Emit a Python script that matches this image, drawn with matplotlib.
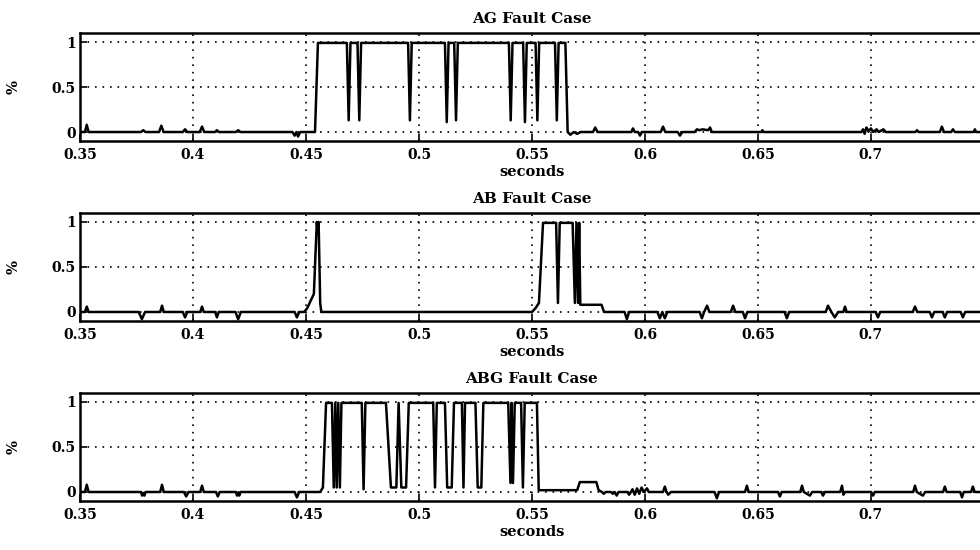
import matplotlib
matplotlib.use("Agg")
import matplotlib.pyplot as plt

plt.rcParams['font.family'] = ['DejaVu Serif']
plt.rcParams['font.weight'] = 'bold'

# AG fault: trip signal breakpoints (time in s, value)
ag_t = [0.350, 0.3522, 0.3530, 0.3538, 0.377, 0.378, 0.379, 0.385, 0.386, 0.387,
        0.3955, 0.3965, 0.3975, 0.403, 0.404, 0.405, 0.4098, 0.4106, 0.4114,
        0.419, 0.420, 0.421, 0.444, 0.445, 0.4458, 0.4465, 0.4475,
        0.4540, 0.4553, 0.4681, 0.4689, 0.4697, 0.4728, 0.4736, 0.4744,
        0.4952, 0.4960, 0.4968, 0.5115, 0.5123, 0.5131, 0.5156, 0.5164, 0.5172,
        0.5398, 0.5406, 0.5414, 0.5461, 0.5469, 0.5477, 0.5516, 0.5524, 0.5532,
        0.5602, 0.5610, 0.5618, 0.5648, 0.5658,
        0.567, 0.5685, 0.570, 0.5715, 0.577, 0.578, 0.579, 0.594, 0.5947, 0.5955,
        0.597, 0.5978, 0.5986, 0.607, 0.608, 0.609, 0.6145, 0.6155, 0.6165,
        0.622, 0.623, 0.624, 0.6255, 0.628, 0.6288, 0.6296, 0.6515, 0.652, 0.6525,
        0.6958, 0.6965, 0.6972, 0.698, 0.699, 0.700, 0.701, 0.7025, 0.7035,
        0.7055, 0.7065, 0.7197, 0.7204, 0.7211, 0.7305, 0.7314, 0.7323,
        0.7355, 0.7363, 0.7371, 0.7455, 0.746, 0.7465, 0.750]
ag_v = [0.0, 0.0, 0.08, 0.0, 0.0, 0.02, 0.0, 0.0, 0.07, 0.0,
        0.0, 0.03, 0.0, 0.0, 0.06, 0.0, 0.0, 0.02, 0.0,
        0.0, 0.02, 0.0, 0.0, -0.04, 0.0, -0.05, 0.0,
        0.0, 0.99, 0.99, 0.13, 0.99, 0.99, 0.13, 0.99,
        0.99, 0.13, 0.99, 0.99, 0.11, 0.99, 0.99, 0.13, 0.99,
        0.99, 0.13, 0.99, 0.99, 0.11, 0.99, 0.99, 0.13, 0.99,
        0.99, 0.13, 0.99, 0.99, 0.0,
        -0.03, 0.0, -0.02, 0.0, 0.0, 0.05, 0.0, 0.0, 0.04, 0.0,
        0.0, -0.04, 0.0, 0.0, 0.06, 0.0, 0.0, -0.04, 0.0,
        0.0, 0.03, 0.02, 0.03, 0.02, 0.05, 0.0, 0.0, 0.02, 0.0,
        0.0, 0.03, -0.02, 0.05, 0.01, 0.04, 0.0, 0.03, 0.0,
        0.03, 0.0, 0.0, 0.02, 0.0, 0.0, 0.06, 0.0,
        0.0, 0.03, 0.0, 0.0, 0.03, 0.0, 0.0]

# AB fault
ab_t = [0.350, 0.3522, 0.353, 0.3538, 0.376, 0.3774, 0.3788, 0.3855, 0.3863, 0.3871,
        0.3955, 0.3965, 0.3975, 0.4032, 0.404, 0.4048, 0.4098, 0.4106, 0.4114,
        0.4188, 0.420, 0.4212, 0.445, 0.446, 0.447,
        0.4492, 0.4505, 0.4520, 0.4535, 0.4548, 0.4552, 0.4556, 0.4563, 0.4568,
        0.5500, 0.5515, 0.5531, 0.5549, 0.5607, 0.5615, 0.5623, 0.5680, 0.5690,
        0.5697, 0.5704, 0.5709, 0.5714, 0.5808, 0.5819,
        0.591, 0.592, 0.593, 0.6055, 0.6066, 0.6077, 0.6088, 0.6099,
        0.6242, 0.6252, 0.6262, 0.6275, 0.6285, 0.638, 0.639, 0.640,
        0.6433, 0.6443, 0.6453, 0.6618, 0.6628, 0.6638, 0.680, 0.681, 0.6825,
        0.684, 0.6855, 0.6878, 0.6885, 0.6893, 0.7021, 0.7031, 0.7041,
        0.7185, 0.7195, 0.7205, 0.726, 0.727, 0.728, 0.7317, 0.7327, 0.7337,
        0.7397, 0.7407, 0.7417, 0.750]
ab_v = [0.0, 0.0, 0.06, 0.0, 0.0, -0.08, 0.0, 0.0, 0.07, 0.0,
        0.0, -0.06, 0.0, 0.0, 0.06, 0.0, 0.0, -0.06, 0.0,
        0.0, -0.08, 0.0, 0.0, -0.06, 0.0,
        0.0, 0.04, 0.12, 0.20, 1.0, 0.9, 1.0, 0.1, 0.0,
        0.0, 0.04, 0.1, 0.99, 0.99, 0.1, 0.99, 0.99, 0.1,
        0.99, 0.1, 0.99, 0.08, 0.08, 0.0,
        0.0, -0.08, 0.0, 0.0, -0.07, 0.0, -0.07, 0.0,
        0.0, -0.07, 0.0, 0.07, 0.0, 0.0, 0.07, 0.0,
        0.0, -0.07, 0.0, 0.0, -0.07, 0.0, 0.0, 0.07, 0.0,
        -0.06, 0.0, 0.0, 0.06, 0.0, 0.0, -0.06, 0.0,
        0.0, 0.06, 0.0, 0.0, -0.06, 0.0, 0.0, -0.06, 0.0,
        0.0, -0.06, 0.0, 0.0]

# ABG fault
abg_t = [0.350, 0.3522, 0.353, 0.3538, 0.377, 0.3775, 0.378, 0.3785, 0.379,
         0.3855, 0.3863, 0.3871, 0.396, 0.397, 0.398, 0.4032, 0.404, 0.4048,
         0.4102, 0.411, 0.4118, 0.419, 0.4195, 0.420, 0.4205, 0.421,
         0.445, 0.446, 0.447,
         0.4563, 0.4575, 0.4589, 0.4615, 0.4623, 0.4630, 0.4636, 0.4643, 0.4650,
         0.4657, 0.4747, 0.4755, 0.4763, 0.4854, 0.4876, 0.4900, 0.4910, 0.4922,
         0.4943, 0.4955, 0.5063, 0.5071, 0.5079, 0.5115, 0.5125, 0.5145, 0.5155,
         0.5190, 0.5197, 0.5204, 0.5250, 0.5260, 0.5276, 0.5285, 0.5395, 0.5405,
         0.5410, 0.5416, 0.5424, 0.5452, 0.5460, 0.5468, 0.5522, 0.5530,
         0.570, 0.5712, 0.5785, 0.5795, 0.581, 0.5818, 0.5826, 0.585, 0.5858,
         0.5866, 0.5875, 0.5883, 0.5922, 0.593, 0.5938, 0.5945, 0.5955, 0.5965,
         0.5975, 0.5985, 0.5995, 0.6009, 0.6017, 0.608, 0.6088, 0.6096, 0.6103,
         0.6115, 0.6308, 0.6318, 0.6328, 0.6443, 0.6451, 0.6459, 0.6589, 0.6597,
         0.6605, 0.6687, 0.6695, 0.6703, 0.673, 0.674, 0.678, 0.6788, 0.6796,
         0.6864, 0.6872, 0.6878, 0.6886, 0.7001, 0.7009, 0.7017, 0.7187, 0.7195,
         0.7203, 0.723, 0.724, 0.7319, 0.7327, 0.7335, 0.7395, 0.7403, 0.7411,
         0.7443, 0.7451, 0.7459, 0.750]
abg_v = [0.0, 0.0, 0.08, 0.0, 0.0, -0.04, -0.01, -0.04, 0.0,
         0.0, 0.08, 0.0, 0.0, -0.05, 0.0, 0.0, 0.07, 0.0,
         0.0, -0.05, 0.0, 0.0, -0.04, -0.01, -0.04, 0.0,
         0.0, -0.06, 0.0,
         0.0, 0.05, 0.99, 0.99, 0.05, 0.99, 0.05, 0.99, 0.05,
         0.99, 0.99, 0.03, 0.99, 0.99, 0.05, 0.05, 0.99, 0.05,
         0.05, 0.99, 0.99, 0.05, 0.99, 0.99, 0.05, 0.05, 0.99,
         0.99, 0.05, 0.99, 0.99, 0.05, 0.05, 0.99, 0.99, 0.1,
         0.99, 0.1, 0.99, 0.99, 0.05, 0.99, 0.99, 0.02,
         0.02, 0.11, 0.11, 0.02, 0.0, -0.02, 0.0, 0.0, -0.02,
         0.0, -0.04, 0.0, 0.0, -0.03, 0.0, 0.03, -0.03, 0.04,
         -0.02, 0.05, 0.0, 0.04, 0.0, 0.0, 0.06, 0.0, -0.03,
         0.0, 0.0, -0.07, 0.0, 0.0, 0.07, 0.0, 0.0, -0.05,
         0.0, 0.0, 0.07, 0.0, -0.04, 0.0, 0.0, -0.04, 0.0,
         0.0, 0.07, -0.03, 0.0, 0.0, -0.04, 0.0, 0.0, 0.07,
         0.0, -0.04, 0.0, 0.0, 0.06, 0.0, 0.0, -0.06, 0.0,
         0.0, 0.06, 0.0, 0.0]

titles = ['AG Fault Case', 'AB Fault Case', 'ABG Fault Case']
series = [(ag_t, ag_v), (ab_t, ab_v), (abg_t, abg_v)]
# the axes run slightly past the right edge, so 0.75 gets no label
xticks = [0.35, 0.4, 0.45, 0.5, 0.55, 0.6, 0.65, 0.7]
xticklabels = ['0.35', '0.4', '0.45', '0.5', '0.55', '0.6', '0.65', '0.7']
yticks = [0, 0.5, 1]
yticklabels = ['0', '0.5', '1']

fig = plt.figure(figsize=(9.8, 5.5), dpi=100)
# axes boxes in figure fractions (left, bottom, width, height)
boxes = [(0.0816, 0.7436, 0.9224, 0.1964),
         (0.0816, 0.4164, 0.9224, 0.1964),
         (0.0816, 0.0891, 0.9224, 0.1964)]

for box, title, (t, v) in zip(boxes, titles, series):
    ax = fig.add_axes(box)
    ax.plot(t, v, color='black', lw=1.8)
    ax.set_xlim(0.35, 0.75)
    ax.set_ylim(-0.1, 1.1)
    ax.set_xticks(xticks)
    ax.set_xticklabels(xticklabels)
    ax.set_yticks(yticks)
    ax.set_yticklabels(yticklabels)
    ax.grid(True, color='black', linestyle=(0, (1, 3.5)), lw=1.2)
    ax.tick_params(direction='in', length=5, width=1.2, labelsize=10)
    ax.tick_params(axis='x', pad=5)
    ax.tick_params(axis='y', pad=3)
    for s in ax.spines.values():
        s.set_linewidth(1.8)
    ax.set_title(title, fontsize=11, fontweight='bold', pad=7)
    ax.set_xlabel('seconds', fontsize=10.5, fontweight='bold', labelpad=2)
    ax.set_ylabel('%', fontsize=10.5, fontweight='bold')
    ax.yaxis.set_label_coords(-0.066, 0.5)

fig.savefig('out.png', dpi=100)
